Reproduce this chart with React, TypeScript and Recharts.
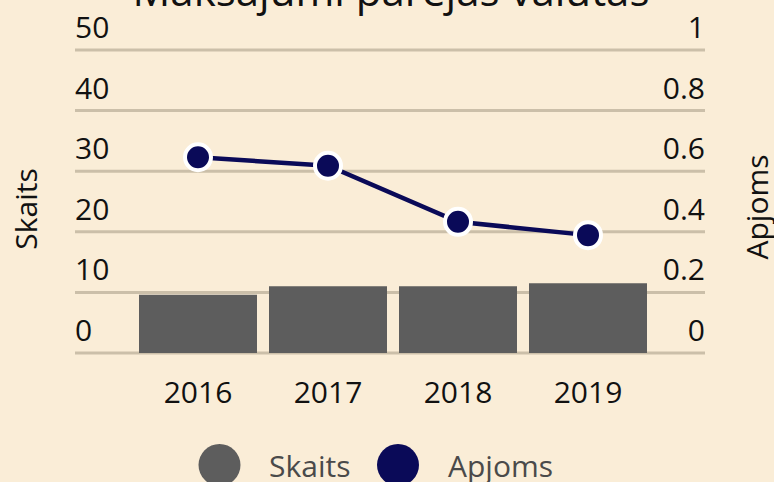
import React from "react";
import {
  ComposedChart,
  Bar,
  Line,
  XAxis,
  YAxis,
  CartesianGrid,
  Legend,
} from "recharts";

// chart data
const years = ["2016", "2017", "2018", "2019"];
const skaits = [9.6, 11.0, 11.0, 11.5];
const apjoms = [0.646, 0.618, 0.433, 0.389];
const leftTicks = [0, 10, 20, 30, 40, 50];
const rightTicks = [0, 0.2, 0.4, 0.6, 0.8, 1];

const BG = "#faedd7";
const GRID = "#cbbfa9";
const BAR = "#5d5d5d";
const NAVY = "#0a0a58";
const FONT = "'Open Sans', 'Noto Sans', sans-serif";

const data = years.map((y, i) => ({ year: y, skaits: skaits[i], apjoms: apjoms[i] }));

const LeftTick = (props: any) => (
  <text x={75} y={props.y - 12} textAnchor="start" fontSize={30} fontFamily={FONT} fill="#111">
    {props.payload.value}
  </text>
);

const RightTick = (props: any) => (
  <text x={705} y={props.y - 12} textAnchor="end" fontSize={30} fontFamily={FONT} fill="#111">
    {props.payload.value}
  </text>
);

const XTick = (props: any) => (
  <text x={props.x} y={403} textAnchor="middle" fontSize={30} fontFamily={FONT} fill="#111">
    {props.payload.value}
  </text>
);

const LegendContent = () => (
  <svg width={774} height={50} style={{ display: "block" }}>
    <circle cx={219.5} cy={25} r={21} fill={BAR} />
    <text x={269} y={36.5} fontSize={30} fontFamily={FONT} fill="#4a4a4a">
      Skaits
    </text>
    <circle cx={398} cy={25} r={21} fill={NAVY} />
    <text x={448} y={36.5} fontSize={30} fontFamily={FONT} fill="#4a4a4a">
      Apjoms
    </text>
  </svg>
);

export default function App() {
  React.useEffect(() => {
    document.body.style.margin = "0";
  }, []);
  return (
    <div style={{ width: 774, height: 482, background: BG, position: "relative", overflow: "hidden" }}>
      <ComposedChart
        width={774}
        height={482}
        data={data}
        margin={{ top: 50, right: 68, bottom: 19, left: 74 }}
      >
        <CartesianGrid vertical={false} stroke={GRID} strokeWidth={3} yAxisId="left" />
        <XAxis
          dataKey="year"
          axisLine={false}
          tickLine={false}
          height={60}
          padding={{ left: 58, right: 52 }}
          tick={<XTick />}
        />
        <YAxis
          yAxisId="left"
          domain={[0, 50]}
          ticks={leftTicks}
          width={1}
          interval={0}
          axisLine={false}
          tickLine={false}
          tick={<LeftTick />}
        />
        <YAxis
          yAxisId="right"
          orientation="right"
          domain={[0, 1]}
          ticks={rightTicks}
          width={1}
          interval={0}
          axisLine={false}
          tickLine={false}
          tick={<RightTick />}
        />
        <Legend
          verticalAlign="bottom"
          height={50}
          wrapperStyle={{ top: 440, left: 0, width: 774 }}
          content={<LegendContent />}
        />
        <Bar yAxisId="left" dataKey="skaits" name="Skaits" fill={BAR} barSize={118} isAnimationActive={false} />
        <Line
          yAxisId="right"
          dataKey="apjoms"
          name="Apjoms"
          type="linear"
          stroke={NAVY}
          strokeWidth={4.5}
          dot={{ r: 13, fill: NAVY, stroke: "#fff", strokeWidth: 4 }}
          activeDot={false}
          isAnimationActive={false}
        />
        <text x={391} y={6} textAnchor="middle" fontSize={42} fontFamily={FONT} fill="#111">
          Maksājumi pārējās valūtās
        </text>
        <text
          x={37}
          y={209}
          textAnchor="middle"
          fontSize={30}
          fontFamily={FONT}
          fill="#111"
          transform="rotate(-90 37 209)"
        >
          Skaits
        </text>
        <text
          x={768}
          y={207}
          textAnchor="middle"
          fontSize={30}
          fontFamily={FONT}
          fill="#111"
          transform="rotate(-90 768 207)"
        >
          Apjoms
        </text>
      </ComposedChart>
    </div>
  );
}
